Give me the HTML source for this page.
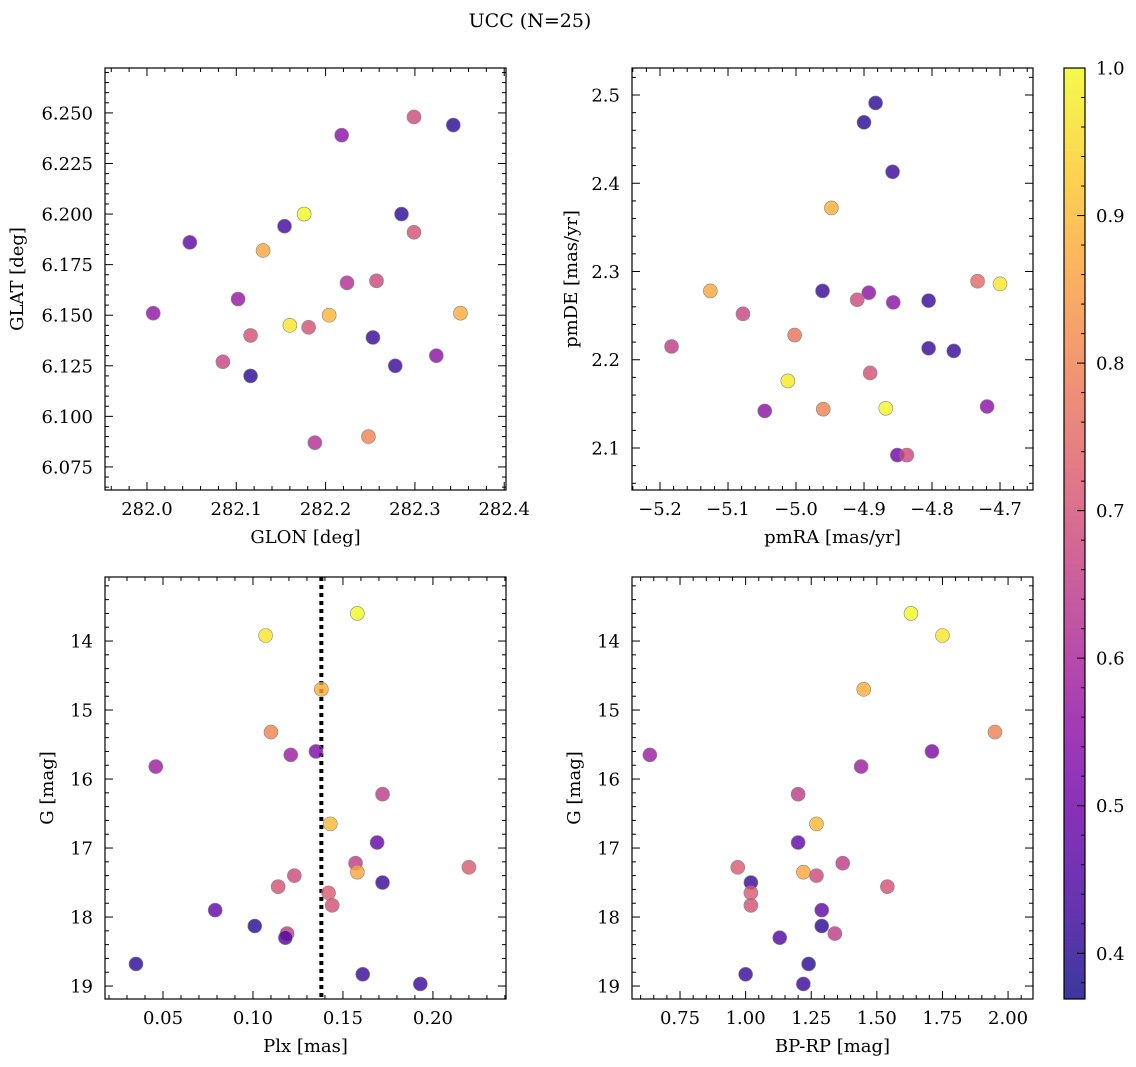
<!DOCTYPE html>
<html><head><meta charset="utf-8">
<style>
html,body{margin:0;padding:0;background:#fff;}
svg{display:block;font-family:"DejaVu Serif","Liberation Serif",serif;}
</style></head>
<body>
<svg id="fig" width="1136" height="1067" viewBox="0 0 1136 1067" xmlns="http://www.w3.org/2000/svg">
<text x="530" y="27" font-size="19" text-anchor="middle">UCC (N=25)</text>
</svg>
<script>
// ---- data (per panel) ----
const glon = [282.343,282.299,282.218,282.176,282.285,282.154,282.048,282.130,282.299,282.224,282.257,282.102,282.007,282.160,282.204,282.351,282.116,282.181,282.253,282.085,282.324,282.278,282.116,282.188,282.248];
const glat = [6.244,6.248,6.239,6.200,6.200,6.194,6.186,6.182,6.191,6.166,6.167,6.158,6.151,6.145,6.150,6.151,6.140,6.144,6.139,6.127,6.130,6.125,6.120,6.087,6.090];
const probTL = [0.40,0.68,0.55,1.0,0.40,0.43,0.47,0.87,0.70,0.62,0.68,0.57,0.56,0.97,0.90,0.88,0.70,0.70,0.42,0.67,0.55,0.42,0.40,0.62,0.80];

const pmra = [-4.883,-4.900,-4.858,-4.948,-4.733,-4.700,-5.126,-4.961,-4.893,-4.910,-4.857,-4.805,-5.078,-5.002,-5.183,-4.805,-4.768,-4.891,-5.012,-4.719,-4.868,-4.960,-5.046,-4.851,-4.837];
const pmde = [2.491,2.469,2.413,2.372,2.289,2.286,2.278,2.278,2.276,2.268,2.265,2.267,2.252,2.228,2.215,2.213,2.210,2.185,2.176,2.147,2.145,2.144,2.142,2.092,2.092];
const probTR = [0.40,0.40,0.42,0.88,0.75,0.97,0.87,0.42,0.55,0.68,0.55,0.42,0.67,0.77,0.65,0.42,0.42,0.70,0.98,0.55,1.0,0.80,0.55,0.50,0.68];

const plx = [0.158,0.107,0.138,0.110,0.121,0.135,0.046,0.172,0.143,0.169,0.157,0.220,0.158,0.123,0.114,0.172,0.142,0.144,0.079,0.101,0.119,0.118,0.035,0.161,0.193];
const gmag = [13.6,13.92,14.7,15.32,15.65,15.6,15.82,16.22,16.65,16.92,17.22,17.28,17.35,17.4,17.56,17.5,17.65,17.83,17.9,18.13,18.24,18.3,18.68,18.83,18.97];
const bprp = [1.63,1.75,1.45,1.95,0.635,1.71,1.44,1.20,1.27,1.20,1.37,0.97,1.22,1.27,1.54,1.02,1.02,1.02,1.29,1.29,1.34,1.13,1.24,1.00,1.22];
const probB = [1.0,0.97,0.88,0.80,0.58,0.52,0.58,0.65,0.90,0.48,0.65,0.72,0.87,0.68,0.70,0.42,0.72,0.70,0.48,0.40,0.65,0.45,0.40,0.42,0.42];
const plxLine = 0.138;
const cbTicks = [0.4,0.5,0.6,0.7,0.8,0.9,1.0];

const NS="http://www.w3.org/2000/svg";
const svg=document.getElementById('fig');
function el(t,a,p){const e=document.createElementNS(NS,t);for(const k in a)e.setAttribute(k,a[k]);(p||svg).appendChild(e);return e;}

const stops=[[0,[13,8,135]],[0.1,[65,4,157]],[0.2,[106,0,168]],[0.3,[143,13,164]],[0.4,[177,42,144]],[0.5,[204,71,120]],[0.6,[225,100,98]],[0.7,[242,132,75]],[0.8,[252,166,54]],[0.9,[252,206,37]],[1,[240,249,33]]];
const VMIN=0.369,VMAX=1.0;
function cmapT(t){t=Math.max(0,Math.min(1,t));
 for(let i=1;i<stops.length;i++){if(t<=stops[i][0]){const a=stops[i-1],b=stops[i];const f=(t-a[0])/(b[0]-a[0]);
 return 'rgb('+a[1].map((c,j)=>Math.round(c+(b[1][j]-c)*f)).join(',')+')';}}return 'rgb(240,249,33)';}
function cmap(v){return cmapT((v-VMIN)/(VMAX-VMIN));}

function fmt(v,d){return v.toFixed(d).replace('-','\u2212');}
function isMult(v,s){const r=v/s;return Math.abs(r-Math.round(r))<1e-6;}
const FS=18;

function panel(name,box,xd,yd,xmaj,xmin,ymaj,ymin,xdec,ydec,xlab,ylab,xs,ys,ps,inv){
  const [L,T,R,B]=box;
  const g=el('g',{});
  const X=v=>L+(v-xd[0])/(xd[1]-xd[0])*(R-L);
  const Y=inv?(v=>T+(v-yd[0])/(yd[1]-yd[0])*(B-T)):(v=>B-(v-yd[0])/(yd[1]-yd[0])*(B-T));
  const ax=el('g',{},g);
  
  
  const tick=(x1,y1,x2,y2)=>el('line',{x1,y1,x2,y2,stroke:'#000','stroke-width':1},ax);
  for(let k=Math.ceil(xd[0]/xmin-1e-6);k*xmin<=xd[1];k++){const v=k*xmin;const x=X(v);
    const maj=isMult(v,xmaj);const len=maj?8:4;
    tick(x,B,x,B-len);tick(x,T,x,T+len);
    if(maj){const t=el('text',{x,y:B+25,'font-size':FS,'text-anchor':'middle'},ax);t.textContent=fmt(v,xdec);
      
      }}
  for(let k=Math.ceil(yd[0]/ymin-1e-6);k*ymin<=yd[1];k++){const v=k*ymin;const y=Y(v);
    const maj=isMult(v,ymaj);const len=maj?8:4;
    tick(L,y,L+len,y);tick(R,y,R-len,y);
    if(maj){const t=el('text',{x:L-12,y:y+6.5,'font-size':FS,'text-anchor':'end'},ax);t.textContent=fmt(v,ydec);
      
      }}
  const xl=el('text',{x:(L+R)/2,y:B+53,'font-size':FS,'text-anchor':'middle'},g);xl.textContent=xlab;
  
  
  const yl=el('text',{x:0,y:0,'font-size':FS,'text-anchor':'middle',transform:`translate(${ylab[1]},${(T+B)/2}) rotate(-90)`},g);yl.textContent=ylab[0];
  
  
  const pts=el('g',{},g);
  for(let i=0;i<xs.length;i++){const c=el('circle',{cx:X(xs[i]),cy:Y(ys[i]),r:7,fill:cmap(ps[i]),'fill-opacity':0.8,stroke:'#888','stroke-width':0.6},pts);
    
    }
  const fr=el('rect',{x:L,y:T,width:R-L,height:B-T,fill:'none',stroke:'#000','stroke-width':1.2},g);
  
  
  return {X,Y,g,pts};
}

panel('glon-glat-panel',[105,68,506,490],[281.953,282.402],[6.0636,6.2722],0.1,0.02,0.025,0.005,1,3,'GLON [deg]',['GLAT [deg]',23],glon,glat,probTL,false);
panel('pm-panel',[632,68,1033,490],[-5.2412,-4.6515],[2.0524,2.5306],0.1,0.02,0.1,0.02,1,1,'pmRA [mas/yr]',['pmDE [mas/yr]',577],pmra,pmde,probTR,false);
const bl=panel('plx-g-panel',[105,577,506,999],[0.01778,0.2406],[13.072,19.188],0.05,0.01,1,0.2,2,0,'Plx [mas]',['G [mag]',53],plx,gmag,probB,true);
const dl=el('line',{x1:bl.X(plxLine),y1:577,x2:bl.X(plxLine),y2:999,stroke:'#000','stroke-width':4,'stroke-dasharray':'4 4'});
bl.g.insertBefore(dl,bl.pts);


panel('cmd-panel',[632,577,1033,999],[0.567,2.095],[13.072,19.188],0.25,0.05,1,0.2,2,0,'BP-RP [mag]',['G [mag]',580],bprp,gmag,probB,true);

// colorbar
const cb=el('g',{});


const CT=68,CB=999,CL=1064,CR=1085;
const CY=v=>CB-(v-VMIN)/(VMAX-VMIN)*(CB-CT);
for(let y=CT;y<CB;y+=1){const v=VMIN+(CB-y-0.5)/(CB-CT)*(VMAX-VMIN);
  el('rect',{x:CL,y:y,width:CR-CL,height:1.05,fill:cmap(v),'fill-opacity':0.8},cb);}
el('rect',{x:CL,y:CT,width:CR-CL,height:CB-CT,fill:'none',stroke:'#000','stroke-width':1.2},cb);
for(let k=Math.ceil(VMIN/0.02-1e-6);k*0.02<=VMAX+1e-9;k++){const v=k*0.02;const y=CY(v);
  const maj=isMult(v,0.1);el('line',{x1:CR,y1:y,x2:CR-(maj?8:4),y2:y,stroke:'#000','stroke-width':1},cb);}
cbTicks.forEach(v=>{const t=el('text',{x:CR+11,y:CY(v)+6.5,'font-size':FS},cb);t.textContent=v.toFixed(1);
  
  });
</script>
</body></html>
